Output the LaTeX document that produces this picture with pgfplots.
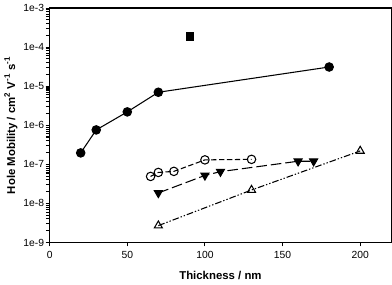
\documentclass[border=0pt]{standalone}
\usepackage{pgfplots}
\pgfplotsset{compat=1.18}
\usepackage{fontspec}
\setmainfont{Liberation Sans}
\begin{document}
\begin{tikzpicture}
\begin{axis}[
  scale only axis,
  width=258pt, height=177pt,
  xmin=0, xmax=220,
  ymode=log, ymin=1e-9, ymax=1e-3,
  xtick={0,50,100,150,200},
  ytick={1e-9,1e-8,1e-7,1e-6,1e-5,1e-4,1e-3},
  yticklabels={1e-9,1e-8,1e-7,1e-6,1e-5,1e-4,1e-3},
  minor ytick={},
  tick align=outside,
  axis line style={line width=1.1pt},
  tick style={black, line width=0.8pt},
  major tick length=3pt,
  xtick pos=left, ytick pos=left,
  tick label style={font=\fontsize{7.8}{9}\selectfont},
  yticklabel style={inner xsep=1pt},
  /pgf/number format/assume math mode=true,
  xlabel={\bfseries Thickness / nm},
  ylabel={\bfseries Hole Mobility / cm\textsuperscript{2} V\textsuperscript{-1} s\textsuperscript{-1}},
  label style={font=\fontsize{8.6}{10}\selectfont},
  xlabel style={yshift=-3pt},
  ylabel style={yshift=0pt},
]
\addplot[black, line width=0.8pt, mark=*, mark size=3.2pt, mark options={solid}] coordinates {
 (20,1.96e-7) (30,7.6e-7) (50,2.2e-6) (70,7e-6) (180,3.1e-5)};
\addplot[only marks, black, mark=square*, mark size=2.7pt] coordinates {(90,1.9e-4)};
\addplot[black, line width=0.8pt, dash pattern=on 4pt off 2pt, mark=o, mark size=3.2pt, mark options={solid, fill=white}] coordinates {
 (65,4.9e-8) (70,6.2e-8) (80,6.6e-8) (100,1.3e-7) (130,1.34e-7)};
\addplot[black, line width=0.8pt, dash pattern=on 8pt off 3pt, mark=triangle*, mark size=3.5pt, mark options={solid, rotate=180}] coordinates {
 (70,1.85e-8) (100,5.2e-8) (110,6.5e-8) (160,1.2e-7) (170,1.2e-7)};
\addplot[black, line width=0.8pt, dash pattern=on 5pt off 1.5pt on 1pt off 1.5pt on 1pt off 1.5pt, mark=triangle, mark size=3.5pt, mark options={solid, fill=white}] coordinates {
 (70,2.7e-9) (130,2.2e-8) (200,2.2e-7)};
\end{axis}
\end{tikzpicture}
\end{document}
